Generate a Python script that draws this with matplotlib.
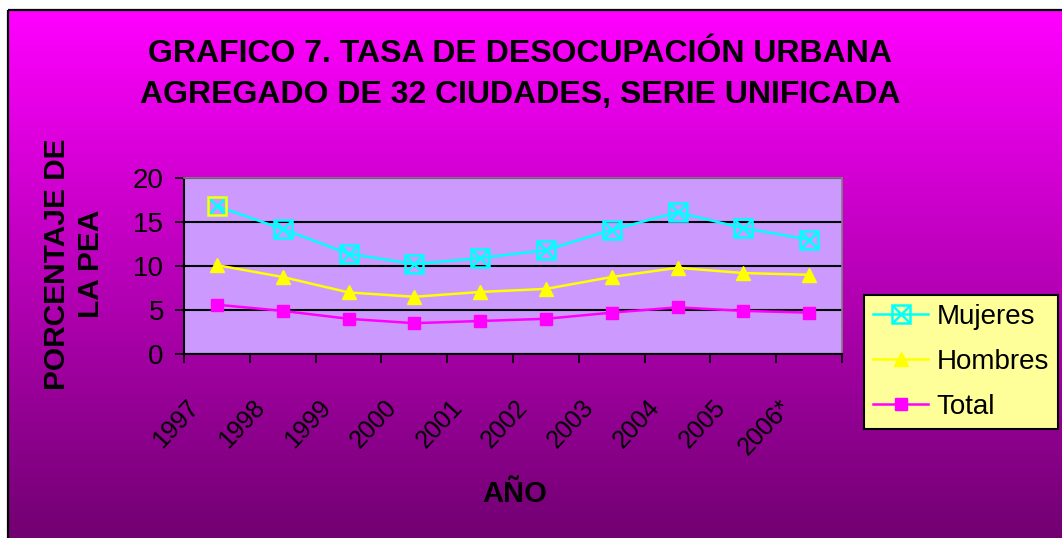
import numpy as np
import matplotlib
matplotlib.use('Agg')
from matplotlib import pyplot as plt
from matplotlib.legend_handler import HandlerTuple
from matplotlib.lines import Line2D
from matplotlib.patches import Rectangle
import matplotlib.transforms as mtransforms

plt.rcParams['font.family'] = ['Liberation Sans', 'DejaVu Sans']

years = ['1997', '1998', '1999', '2000', '2001', '2002', '2003', '2004', '2005', '2006*']
mujeres = [16.8, 14.2, 11.4, 10.2, 10.9, 11.8, 14.1, 16.1, 14.3, 13.0]
hombres = [10.1, 8.75, 7.0, 6.5, 7.05, 7.4, 8.75, 9.8, 9.2, 9.0]
total = [5.6, 4.9, 4.0, 3.5, 3.75, 4.0, 4.7, 5.3, 4.9, 4.7]

W, H = 1062, 538
fig = plt.figure(figsize=(W / 100, H / 100), dpi=100)
fig.patch.set_facecolor('white')

# gradient background with black frame
bg = fig.add_axes([0, 0, 1, 1], zorder=-10)
grad = np.linspace(0, 1, 256)[:, None]
top = np.array([1.0, 0.0, 1.0])
bot = np.array([0.44, 0.0, 0.44])
img = top[None, None, :] * (1 - grad[:, :, None]) + bot[None, None, :] * grad[:, :, None]
bg.imshow(img, aspect='auto', extent=[8, W + 5, H + 5, 10])
bg.add_patch(Rectangle((8, 10), W, H, fill=False, edgecolor='black', linewidth=1.6))
bg.set_xlim(0, W)
bg.set_ylim(H, 0)
bg.axis('off')

ax = fig.add_axes([184 / W, 1 - 354 / H, (842 - 184) / W, (354 - 178) / H])
ax.set_facecolor('#CC99FF')
x = np.arange(len(years)) + 0.5

cyan, yellow, magenta = '#00FFFF', '#FFFF00', '#FF00FF'
ax.plot(x, hombres, color=yellow, lw=1.8, marker='^', ms=10, zorder=3)
ax.plot(x, total, color=magenta, lw=1.8, marker='s', ms=8, zorder=3)
ax.plot(x, mujeres, color=cyan, lw=1.8, marker='s', ms=13, mfc='none', mec=cyan, mew=1.8, zorder=4)
ax.plot(x, mujeres, linestyle='none', marker='x', ms=11, mec=cyan, mew=1.8, zorder=4)
# first point is highlighted with a yellow border
ax.plot(x[:1], mujeres[:1], linestyle='none', marker='s', ms=13, mfc='none', mec=yellow, mew=1.8, zorder=5)

ax.set_xlim(0, len(years))
ax.set_ylim(0, 20)
ax.set_yticks([0, 5, 10, 15, 20])
ax.yaxis.grid(True, color='black', lw=1.5)
ax.set_axisbelow(True)
ax.set_xticks(np.arange(len(years) + 1))
ax.set_xticklabels([])
ax.tick_params(axis='both', direction='out', length=6.5, width=1.2, color='black')
ax.tick_params(axis='y', labelsize=20, pad=8)
for s in ['left', 'bottom']:
    ax.spines[s].set_color('black')
    ax.spines[s].set_linewidth(1.5)
for s in ['top', 'right']:
    ax.spines[s].set_color('#808080')
    ax.spines[s].set_linewidth(1.2)

off = mtransforms.ScaledTranslation(-13 / 100, -41 / 100, fig.dpi_scale_trans)
trans = mtransforms.blended_transform_factory(ax.transData, ax.transAxes) + off
for xi, lab in zip(x, years):
    ax.text(xi, 0, lab, rotation=47, ha='right', va='top', fontsize=18, transform=trans)

fig.text(520 / W, 1 - 62 / H, 'GRAFICO 7. TASA DE DESOCUPACIÓN URBANA', ha='center', va='baseline',
         fontsize=23, fontweight='bold')
fig.text(520 / W, 1 - 103 / H, 'AGREGADO DE 32 CIUDADES, SERIE UNIFICADA', ha='center', va='baseline',
         fontsize=23, fontweight='bold')
fig.text(74 / W, 1 - 264 / H, 'PORCENTAJE DE\nLA PEA', rotation=90, ha='center', va='center',
         fontsize=21.5, fontweight='bold', multialignment='center', linespacing=1.3)
fig.text(515 / W, 1 - 494 / H, 'AÑO', ha='center', va='center', fontsize=21, fontweight='bold')

h_muj = (Line2D([], [], color=cyan, lw=1.8, marker='s', ms=13, mfc='none', mec=cyan, mew=1.8),
         Line2D([], [], linestyle='none', marker='x', ms=11, mec=cyan, mew=1.8))
h_hom = Line2D([], [], color=yellow, lw=1.8, marker='^', ms=10)
h_tot = Line2D([], [], color=magenta, lw=1.8, marker='s', ms=8)
leg = fig.legend([h_muj, h_hom, h_tot], ['Mujeres', 'Hombres', 'Total'],
                 handler_map={tuple: HandlerTuple(ndivide=1)},
                 loc='center', bbox_to_anchor=(961 / W, 1 - 362 / H),
                 fontsize=20, frameon=True, fancybox=False, framealpha=1,
                 facecolor='#FFFF99', edgecolor='black', handlelength=2.0,
                 labelspacing=0.68, borderpad=0.33, handletextpad=0.3, borderaxespad=0)
leg.get_frame().set_linewidth(1.5)

fig.savefig('out.png', dpi=100)
